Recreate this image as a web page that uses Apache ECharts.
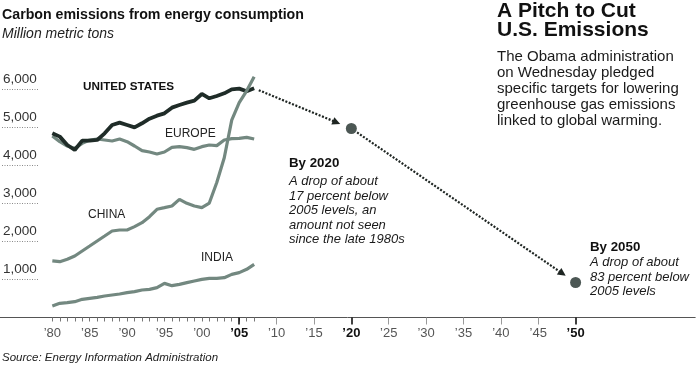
<!DOCTYPE html>
<html>
<head>
<meta charset="utf-8">
<script src="https://cdn.jsdelivr.net/npm/echarts@6/dist/echarts.min.js"></script>
<style>
html,body{margin:0;padding:0;background:#fff;}
#c{width:699px;height:369px;}
</style>
</head>
<body>
<div id="c"></div>
<script>
// ---------- data ----------
const years = [1980,1981,1982,1983,1984,1985,1986,1987,1988,1989,1990,1991,1992,1993,1994,1995,1996,1997,1998,1999,2000,2001,2002,2003,2004,2005,2006,2007];
const usValues = [4843,4756,4536,4405,4650,4650,4668,4843,5063,5124,5063,5001,5107,5229,5308,5369,5518,5588,5650,5702,5878,5764,5825,5895,6000,6018,5948,6027];
const europeValues = [4773,4624,4510,4449,4580,4668,4694,4668,4642,4694,4624,4510,4387,4352,4300,4352,4475,4493,4466,4422,4493,4536,4519,4668,4703,4712,4738,4694];
const chinaValues = [1490,1468,1530,1617,1749,1880,2012,2143,2275,2301,2301,2389,2494,2652,2845,2888,2932,3107,3002,2932,2888,3010,3550,4200,5190,5650,5960,6330];
const indiaValues = [302,373,390,416,478,504,530,565,592,618,653,679,723,741,785,898,837,872,916,960,1004,1030,1030,1047,1135,1179,1267,1398];
const targetYears = [2020, 2050];
const targetValues = [4970, 920];
const xLabelYears = [1980,1985,1990,1995,2000,2005,2010,2015,2020,2025,2030,2035,2040,2045,2050];
const xBoldYears = [2005,2020,2050];
const xGrayMajorTicks = [2010,2015,2025,2030,2035,2040,2045];
const yTicks = [1000,2000,3000,4000,5000,6000];

// ---------- helpers ----------
const FONT = '"Liberation Sans", Arial, Helvetica, sans-serif';
const pairs = (xs, ys) => xs.map((x, i) => [x, ys[i]]);
const fmtThousands = v => String(v).replace(/\B(?=(\d{3})+(?!\d))/g, ',');

const projPoints = [[years[years.length - 1], usValues[usValues.length - 1]]].concat(pairs(targetYears, targetValues));
const projSegments = [];
for (let i = 0; i < projPoints.length - 1; i++) {
  projSegments.push([projPoints[i][0], projPoints[i][1], projPoints[i + 1][0], projPoints[i + 1][1]]);
}

const DARK = '#1f2c28';
const GRAY = '#738880';
const XMIN = 1973, XMAX = 2066;

function text(x, y, str, font, opts) {
  opts = opts || {};
  return {
    type: 'text', x: x, y: y, silent: true,
    style: {
      text: str, font: font, fill: opts.fill || '#111',
      align: 'left', textAlign: 'left',
      verticalAlign: opts.va || 'middle', textVerticalAlign: opts.va || 'middle',
      lineHeight: opts.lh
    }
  };
}

const chart = echarts.init(document.getElementById('c'), null, {renderer: 'canvas'});

const option = {
  animation: false,
  backgroundColor: '#fff',
  grid: [
    {left: -3.3, right: 3.8, top: 51.3, bottom: 51.5},
    {left: 1, width: 37, top: 51.3, bottom: 51.5}
  ],
  xAxis: [
    {
      gridIndex: 0, type: 'value', min: XMIN, max: XMAX, position: 'bottom', offset: 0,
      axisLine: {show: true, lineStyle: {color: '#555', width: 1}},
      axisTick: {show: true, customValues: xGrayMajorTicks, length: 7, lineStyle: {color: '#9a9a9a', width: 1}},
      axisLabel: {
        show: true, customValues: xLabelYears, margin: 9,
        fontFamily: FONT, fontSize: 13, color: '#555',
        formatter: v => {
          const s = '\u2019' + String(v).slice(2);
          return xBoldYears.indexOf(v) >= 0 ? '{b|' + s + '}' : s;
        },
        rich: {b: {fontWeight: 'bold', color: '#111', fontSize: 13, fontFamily: FONT}}
      },
      splitLine: {show: false}
    },
    {
      gridIndex: 0, type: 'value', min: XMIN, max: XMAX, position: 'bottom', offset: 0,
      axisLine: {show: false},
      axisTick: {show: true, customValues: years, length: 4, lineStyle: {color: '#777', width: 1}},
      axisLabel: {show: false},
      splitLine: {show: false}
    },
    {
      gridIndex: 0, type: 'value', min: XMIN, max: XMAX, position: 'bottom', offset: 0,
      axisLine: {show: false},
      axisTick: {show: true, customValues: xBoldYears, length: 7, lineStyle: {color: '#111', width: 1.6}},
      axisLabel: {show: false},
      splitLine: {show: false}
    },
    {gridIndex: 1, type: 'value', min: 0, max: 1, show: false}
  ],
  yAxis: [
    {gridIndex: 0, type: 'value', min: 0, max: 7000, show: false},
    {
      gridIndex: 1, type: 'value', min: 0, max: 7000, interval: 1000,
      axisLine: {show: false},
      axisTick: {show: false},
      splitLine: {show: true, showMinLine: false, showMaxLine: false, lineStyle: {color: '#8a8a8a', width: 1, type: [1, 1.5]}},
      axisLabel: {
        show: true, inside: true, margin: 1, align: 'left', verticalAlign: 'bottom',
        padding: [0, 0, 3, 0], fontFamily: FONT, fontSize: 13.5, color: '#333',
        formatter: v => (yTicks.indexOf(v) >= 0 ? fmtThousands(v) : '')
      }
    }
  ],
  series: [
    {
      name: 'Europe', type: 'line', xAxisIndex: 0, yAxisIndex: 0, data: pairs(years, europeValues),
      showSymbol: false, lineStyle: {color: GRAY, width: 3.2}, z: 3
    },
    {
      name: 'India', type: 'line', xAxisIndex: 0, yAxisIndex: 0, data: pairs(years, indiaValues),
      showSymbol: false, lineStyle: {color: GRAY, width: 3.2}, z: 3
    },
    {
      name: 'United States', type: 'line', xAxisIndex: 0, yAxisIndex: 0, data: pairs(years, usValues),
      showSymbol: false, lineStyle: {color: DARK, width: 3.8}, z: 4
    },
    {
      name: 'China', type: 'line', xAxisIndex: 0, yAxisIndex: 0, data: pairs(years, chinaValues),
      showSymbol: false, lineStyle: {color: GRAY, width: 3.2}, z: 5
    },
    {
      name: 'Projection', type: 'custom', xAxisIndex: 0, yAxisIndex: 0, clip: false, z: 6,
      data: projSegments,
      renderItem: function (params, api) {
        const p0 = api.coord([api.value(0), api.value(1)]);
        const p1 = api.coord([api.value(2), api.value(3)]);
        const startGap = params.dataIndex === 0 ? 5 : 7;
        const endGap = 12;
        const dx = p1[0] - p0[0], dy = p1[1] - p0[1];
        const L = Math.sqrt(dx * dx + dy * dy);
        const ux = dx / L, uy = dy / L;
        const s = [p0[0] + ux * startGap, p0[1] + uy * startGap];
        const tip = [p1[0] - ux * endGap, p1[1] - uy * endGap];
        const aL = 8, aW = 4;
        const base = [tip[0] - ux * aL, tip[1] - uy * aL];
        const nx = -uy, ny = ux;
        return {
          type: 'group',
          children: [
            {type: 'line', shape: {x1: s[0], y1: s[1], x2: base[0] + ux * 1, y2: base[1] + uy * 1},
             style: {stroke: '#1e2522', lineWidth: 2.2, lineDash: [2, 1.6]}},
            {type: 'polygon', shape: {points: [tip, [base[0] + nx * aW, base[1] + ny * aW], [base[0] - nx * aW, base[1] - ny * aW]]},
             style: {fill: '#1e2522'}}
          ]
        };
      }
    },
    {
      name: 'Targets', type: 'scatter', xAxisIndex: 0, yAxisIndex: 0, data: pairs(targetYears, targetValues),
      symbol: 'circle', symbolSize: 11, itemStyle: {color: '#1f2d29'}, z: 7
    }
  ],
  graphic: [
    text(2, 14.6, 'Carbon emissions from energy consumption', 'bold 14.2px ' + FONT),
    text(2, 34.5, 'Million metric tons', 'italic 14px ' + FONT, {fill: '#222'}),
    text(83, 87, 'UNITED STATES', 'bold 11.7px ' + FONT),
    text(165, 133.5, 'EUROPE', '12px ' + FONT, {fill: '#222'}),
    text(88, 215, 'CHINA', '12px ' + FONT, {fill: '#222'}),
    text(201, 258, 'INDIA', '12px ' + FONT, {fill: '#222'}),
    text(497, 1.2, 'A Pitch to Cut\nU.S. Emissions', 'bold 21px ' + FONT, {va: 'top', lh: 19.2}),
    text(497, 49, 'The Obama administration\non Wednesday pledged\nspecific targets for lowering\ngreenhouse gas emissions\nlinked to global warming.', '15px ' + FONT, {va: 'top', lh: 16, fill: '#1a1a1a'}),
    text(289, 163.7, 'By 2020', 'bold 13.3px ' + FONT),
    text(289, 174.25, 'A drop of about\n17 percent below\n2005 levels, an\namount not seen\nsince the late 1980s', 'italic 13px ' + FONT, {va: 'top', lh: 14.5, fill: '#1a1a1a'}),
    text(590, 247.5, 'By 2050', 'bold 13.3px ' + FONT),
    text(590, 255.2, 'A drop of about\n83 percent below\n2005 levels', 'italic 13px ' + FONT, {va: 'top', lh: 14.6, fill: '#1a1a1a'}),
    text(2, 358, 'Source: Energy Information Administration', 'italic 11.5px ' + FONT, {fill: '#222'})
  ]
};
chart.setOption(option);
</script>
</body>
</html>
